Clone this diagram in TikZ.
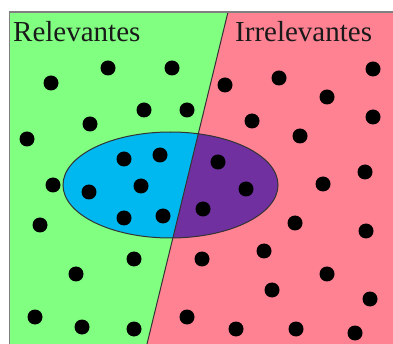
\documentclass[tikz,border=0pt]{standalone}
\usepackage{fontspec}
\setmainfont{Liberation Serif}
\definecolor{relgreen}{HTML}{80FF80}
\definecolor{irrpink}{HTML}{FF8293}
\definecolor{selblue}{HTML}{00B8F0}
\definecolor{selpurple}{HTML}{7030A0}
\begin{document}
\begin{tikzpicture}[x=1pt,y=-1pt,
  dot/.style={fill=black,draw=none},
  label/.style={anchor=base west,inner sep=0pt,font=\fontsize{29}{29}\selectfont,text=black!90}]
\useasboundingbox (0,0) rectangle (393,344);
\fill[white] (0,0) rectangle (393,344);
% regions
\fill[relgreen] (10,12) -- (228,12) -- (147,344) -- (10,344) -- cycle;
\fill[irrpink] (228,12) -- (393,12) -- (393,344) -- (147,344) -- cycle;
% ellipse halves
\begin{scope}
  \clip (10,12) -- (228,12) -- (147,344) -- (10,344) -- cycle;
  \fill[selblue] (170.5,185) ellipse [x radius=107.5, y radius=53];
\end{scope}
\begin{scope}
  \clip (228,12) -- (393,12) -- (393,344) -- (147,344) -- cycle;
  \fill[selpurple] (170.5,185) ellipse [x radius=107.5, y radius=53];
\end{scope}
\draw[black!80,line width=1pt] (170.5,185) ellipse [x radius=107.5, y radius=53];
\coordinate (ltop) at (228,12);
\coordinate (lbot) at (147,344);
\draw[black!80,line width=1pt] (ltop) -- (lbot);
% border
\draw[gray,line width=1.5pt] (9.5,344) -- (9.5,12) -- (393,12);
% labels
\node[label] (rel) at (13,42) {Relevantes};
\node[label] (irr) at (235,42) {Irrelevantes};
% dots
\foreach \x/\y in {51/83,108/68,172/68,90/124,144/110,187/110,27/139,53/185,40/225,134/259,76/274,35/317,82/327,134/329,
  124/159,160/155,141/186,89/192,124/218,163/216,
  218/162,246/189,203/209,
  225/85,279/78,373/69,327/97,252/121,300/136,373/117,323/184,365/172,295/223,366/231,264/251,202/259,327/274,272/290,370/299,187/317,236/329,296/329,355/333}
  \fill[dot] (\x,\y) circle (7.5);
\end{tikzpicture}
\end{document}
